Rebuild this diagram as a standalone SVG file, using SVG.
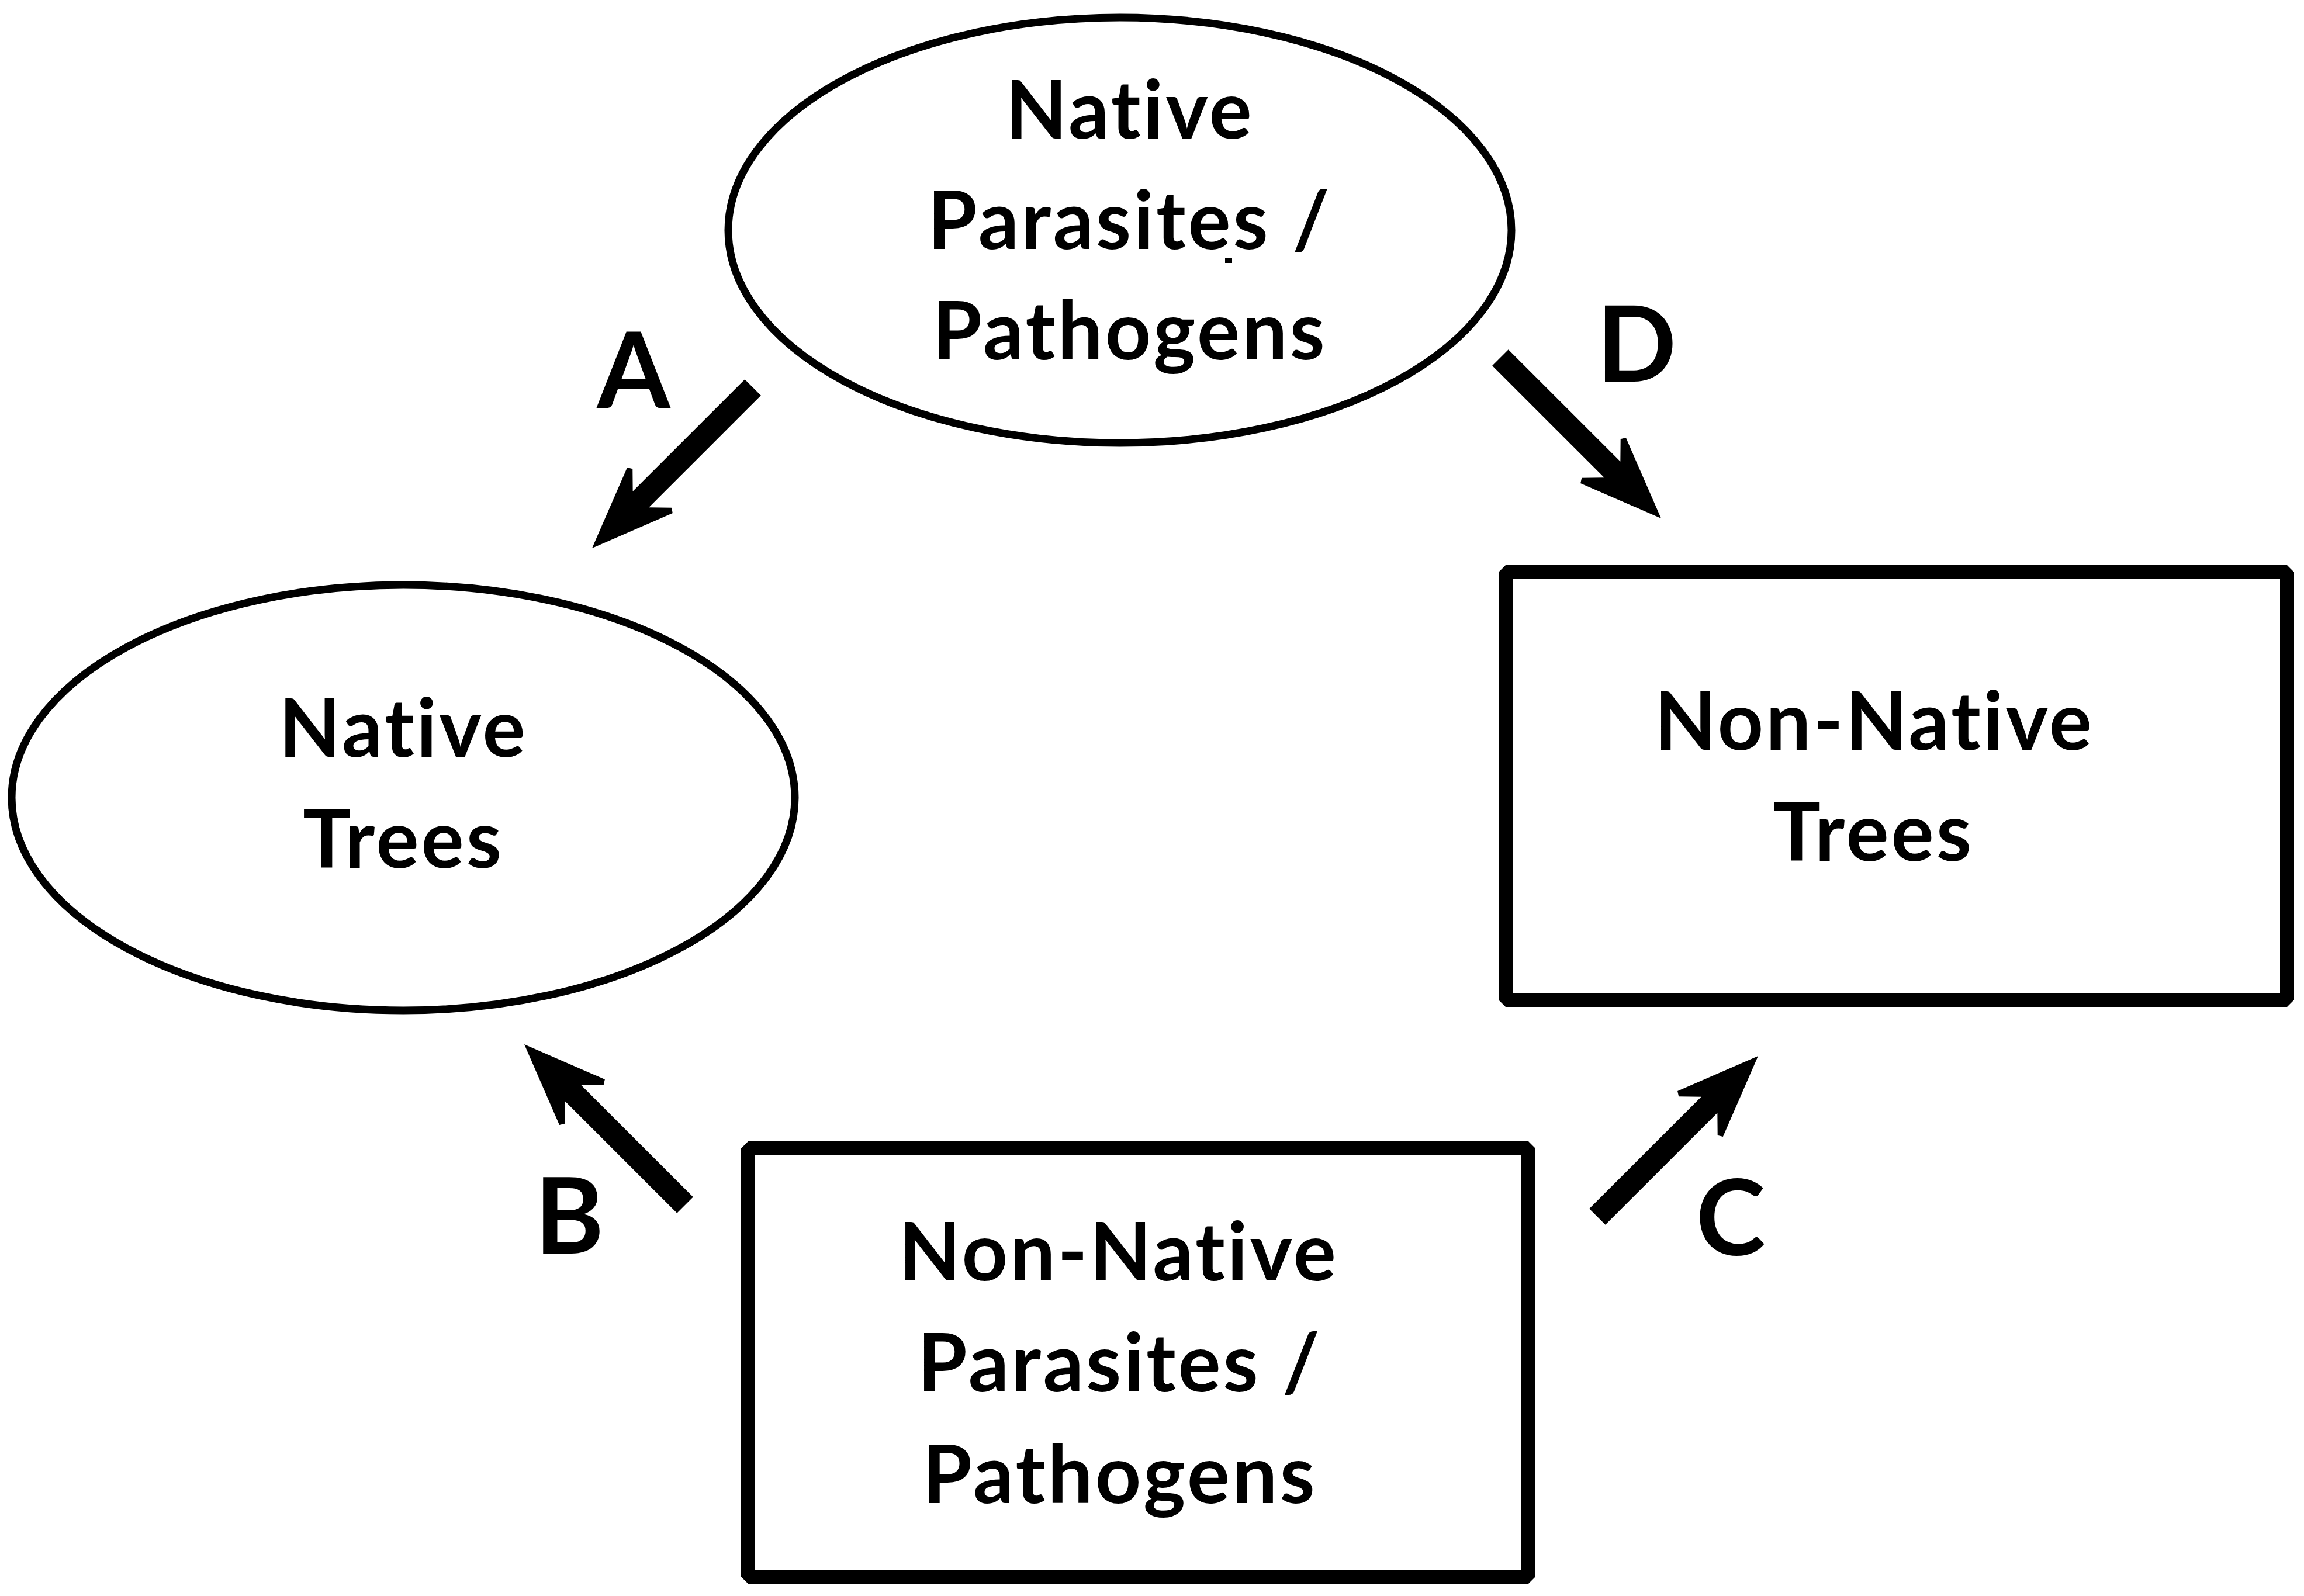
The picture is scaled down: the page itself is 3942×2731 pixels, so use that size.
<svg xmlns="http://www.w3.org/2000/svg" width="3942" height="2731" viewBox="0 0 3942 2731">
<style>
.bg{fill:#ffffff}
.ell{fill:#ffffff;stroke:#000000;stroke-width:13}
.box{fill:#ffffff;stroke:#000000;stroke-width:24;stroke-linejoin:bevel}
.lbl{font-family:Lato,"Open Sans","Liberation Sans",sans-serif;font-weight:700;font-size:137px;letter-spacing:4px;font-variant-ligatures:none;font-feature-settings:"liga" 0,"clig" 0;fill:#000000;text-anchor:middle}
.let{font-family:Lato,"Open Sans","Liberation Sans",sans-serif;font-weight:700;font-size:180px;fill:#000000;text-anchor:middle}
.arr{fill:#000000}
</style>
<defs>
<path id="arrow" d="M0,0 L-140,-55 L-145,-47 L-118,-19.5 L-389,-19.5 L-389,19.5 L-118,19.5 L-145,47 L-140,55 Z"/>
</defs>
<rect class="bg" x="0" y="0" width="3942" height="2731"/>

<g id="native-parasites">
<ellipse class="ell" cx="1916" cy="394" rx="670" ry="364"/>
<text class="lbl" x="1933" y="237">Native</text>
<text class="lbl" x="1933" y="426">Parasites /</text>
<rect x="2096" y="442" width="12" height="8" fill="#000000"/>
<text class="lbl" x="1933" y="615">Pathogens</text>
</g>

<g id="native-trees">
<ellipse class="ell" cx="690" cy="1365" rx="670" ry="364"/>
<text class="lbl" x="690" y="1295">Native</text>
<text class="lbl" x="690" y="1485">Trees</text>
</g>

<g id="non-native-trees">
<rect class="box" x="2576" y="979" width="1337" height="732"/>
<text class="lbl" x="3207" y="1283">Non-Native</text>
<text class="lbl" x="3205" y="1473">Trees</text>
</g>

<g id="non-native-parasites">
<rect class="box" x="1280" y="1965" width="1335" height="733"/>
<text class="lbl" x="1914" y="2191">Non-Native</text>
<text class="lbl" x="1916" y="2381">Parasites /</text>
<text class="lbl" x="1916" y="2572">Pathogens</text>
</g>

<g id="connectors">
<use href="#arrow" class="arr" transform="translate(1013,938) rotate(135)"/>
<use href="#arrow" class="arr" transform="translate(2842,887) rotate(45)"/>
<use href="#arrow" class="arr" transform="translate(897,1787) rotate(-135)"/>
<use href="#arrow" class="arr" transform="translate(3008,1807) rotate(-45)"/>
<text class="let" x="1084" y="698">A</text>
<text class="let" x="2800" y="653">D</text>
<text class="let" x="974" y="2145">B</text>
<text class="let" x="2961" y="2148">C</text>
</g>
</svg>
